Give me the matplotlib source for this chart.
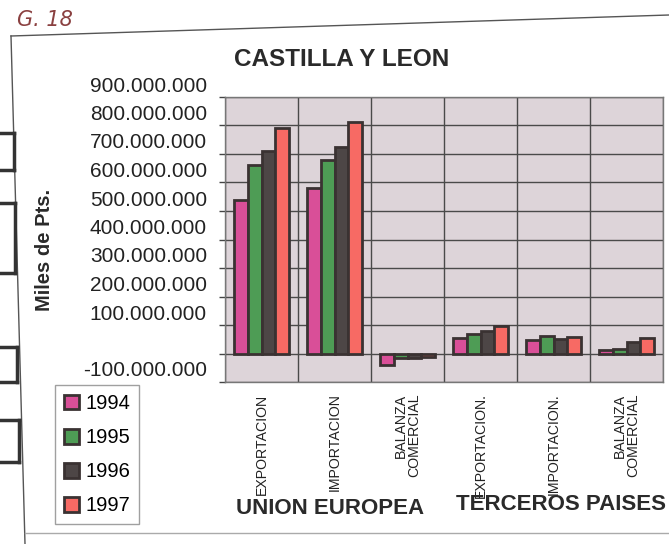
import matplotlib
matplotlib.use("Agg")
import matplotlib.pyplot as plt
import matplotlib.transforms as mtransforms
from matplotlib.patches import Patch
from matplotlib.lines import Line2D
import numpy as np

categories = ["EXPORTACION", "IMPORTACION", "BALANZA\nCOMERCIAL",
              "EXPORTACION.", "IMPORTACION.", "BALANZA\nCOMERCIAL"]
years = ["1994", "1995", "1996", "1997"]
v1994 = [540e6, 580e6, -42e6, 55e6, 47e6, 12e6]
v1995 = [660e6, 680e6, -15e6, 68e6, 62e6, 15e6]
v1996 = [710e6, 725e6, -15e6, 80e6, 51e6, 39e6]
v1997 = [790e6, 812e6, -12e6, 98e6, 59e6, 53e6]
series = [v1994, v1995, v1996, v1997]
colors = ["#d94f98", "#4e9c55", "#4d4646", "#f76a64"]
yticks = [-100e6, 0, 100e6, 200e6, 300e6, 400e6, 500e6, 600e6, 700e6, 800e6, 900e6]
group_labels = ["UNION EUROPEA", "TERCEROS PAISES"]

plt.rcParams['font.family'] = ['Liberation Sans', 'DejaVu Sans']

W, H = 669, 544
fig = plt.figure(figsize=(W / 100, H / 100), dpi=100)
fig.patch.set_facecolor("white")

def fx(x):
    return x / W

def fy(y):
    return 1 - y / H

ax = fig.add_axes([fx(225), fy(382), fx(663) - fx(225), fy(97) - fy(382)])
ax.set_facecolor("#ddd4d9")

n = len(categories)
x = np.arange(n)
bw = 0.19
for i, (vals, c, yr) in enumerate(zip(series, colors, years)):
    ax.bar(x + (i - 1.5) * bw, vals, width=bw, color=c, edgecolor="#3a3232",
           linewidth=2, label=yr, zorder=3)

ax.set_xlim(-0.5, n - 0.5)
ax.set_ylim(-100e6, 900e6)
ax.set_yticks(yticks)

def fmt(v):
    if v == 0:
        return ""
    s = f"{abs(int(v)):,}".replace(",", ".")
    return ("-" if v < 0 else "") + s

ax.set_yticklabels([fmt(v) for v in yticks], fontsize=15, color="#222222")
ax.set_xticks([])
ax.set_xticks(np.arange(-0.5, n, 1), minor=True)
ax.tick_params(axis="x", which="both", length=0)
ax.tick_params(axis="y", which="major", length=4, width=1, color="#444444", pad=9)
ax.grid(axis="y", which="major", color="#4a4a4a", linewidth=1, zorder=1)
ax.grid(axis="x", which="minor", color="#4a4a4a", linewidth=1, zorder=1)
for s in ax.spines.values():
    s.set_color("#777777")
    s.set_linewidth(1)

# scanned labels sit slightly above their gridlines
offset = mtransforms.ScaledTranslation(0, 13 / 100, fig.dpi_scale_trans)
for tick in ax.yaxis.get_major_ticks():
    tick.label1.set_transform(tick.label1.get_transform() + offset)

for i, lab in enumerate(categories):
    ax.text(i, -0.04, lab, transform=ax.get_xaxis_transform(), rotation=90,
            ha="center", va="top", multialignment="right", fontsize=10.2,
            color="#222222", linespacing=1.0)

# Titles and labels
fig.text(fx(342), fy(60), "CASTILLA Y LEON", ha="center", va="center",
         fontsize=17.5, fontweight="bold", color="#2a2a2a")
fig.text(fx(45), fy(250), "Miles de Pts.", ha="center", va="center",
         rotation=90, fontsize=14.5, fontweight="bold", color="#2a2a2a")
fig.text(fx(330), fy(508), group_labels[0], ha="center", va="center",
         fontsize=16, fontweight="bold", color="#2a2a2a")
fig.text(fx(561), fy(505), group_labels[1], ha="center", va="center",
         fontsize=16, fontweight="bold", color="#2a2a2a")

# Legend
handles = [Patch(facecolor=c, edgecolor="#3a3232", linewidth=2) for c in colors]
leg = fig.legend(handles, years, loc="upper left",
                 bbox_to_anchor=(fx(55), fy(385)), fontsize=14.5,
                 handlelength=0.75, handleheight=0.75, handletextpad=0.3,
                 labelspacing=0.75, borderpad=0.45, borderaxespad=0,
                 fancybox=False, frameon=True)
leg.get_frame().set_edgecolor("#888888")
leg.get_frame().set_linewidth(1)

# Page frame and scan marks
fig.add_artist(Line2D([fx(11), fx(669)], [fy(36), fy(15)], color="#555555", lw=1))
fig.add_artist(Line2D([fx(11), fx(25)], [fy(36), fy(544)], color="#555555", lw=1))
fig.add_artist(Line2D([fx(25), fx(669)], [fy(533), fy(533)], color="#aaaaaa", lw=1))
fig.text(fx(17), fy(20), "G. 18", ha="left", va="center", fontsize=15,
         color="#8a4040", fontstyle="italic", family=["DejaVu Sans"])
for (ya, yb, xe) in [(133, 170, 14), (203, 273, 15), (347, 382, 17), (420, 462, 19)]:
    fig.add_artist(Line2D([0, fx(xe)], [fy(ya), fy(ya)], color="#333333", lw=2.5))
    fig.add_artist(Line2D([0, fx(xe)], [fy(yb), fy(yb)], color="#333333", lw=2.5))
    fig.add_artist(Line2D([fx(xe), fx(xe)], [fy(ya), fy(yb)], color="#333333", lw=2.5))

fig.savefig("out.png", dpi=100)
